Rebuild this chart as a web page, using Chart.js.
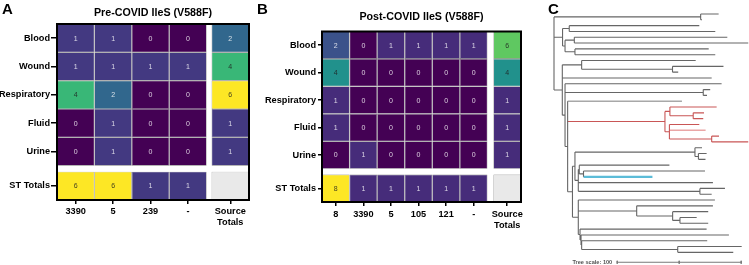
<!DOCTYPE html>
<html>
<head>
<meta charset="utf-8">
<script src="https://cdn.jsdelivr.net/npm/chart.js@4.4.1/dist/chart.umd.min.js"></script>
<style>
  body { margin: 0; background: #fff; width: 749px; height: 265px; position: relative; overflow: hidden; }
  canvas { position: absolute; }
  .panel { position: absolute; font: bold 15px/15px "Liberation Sans", Arial, sans-serif; color: #000; }
</style>
</head>
<body>
<canvas id="preChart" width="262" height="240" style="left:0;top:0"></canvas>
<canvas id="postChart" width="273" height="242" style="left:262px;top:0"></canvas>
<canvas id="treeChart" width="204" height="265" style="left:545px;top:0"></canvas>
<div class="panel" style="left:2px;top:1px">A</div>
<div class="panel" style="left:257px;top:1px">B</div>
<div class="panel" style="left:548px;top:1px">C</div>
<script>
// Heatmap data
const sources = ["Blood", "Wound", "Respiratory", "Fluid", "Urine"];

const preSTs = ["3390", "5", "239", "-"];
const preCounts = [
  [1, 1, 0, 0],
  [1, 1, 1, 1],
  [4, 2, 0, 0],
  [0, 1, 0, 0],
  [0, 1, 0, 0],
];
const preSourceTotals = [2, 4, 6, 1, 1];
const preSTTotals = [6, 6, 1, 1];

const postSTs = ["8", "3390", "5", "105", "121", "-"];
const postCounts = [
  [2, 0, 1, 1, 1, 1],
  [4, 0, 0, 0, 0, 0],
  [1, 0, 0, 0, 0, 0],
  [1, 0, 0, 0, 0, 0],
  [0, 1, 0, 0, 0, 0],
];
const postSourceTotals = [6, 4, 1, 1, 1];
const postSTTotals = [8, 1, 1, 1, 1, 1];

// Tree (branch lengths), labels mark coloured branches
const treeNewick = [
  "(",
  "(:14.5,:1.1):118.3,",
  "((:104.9,:117.8):5.4,((:123.4,:140.3):7.5,(:107.9,:113.2):8.0):2.0):6.9,",
  "((:92.0,(:41.1,:4.6):73.3):15.6,:120.5,",
  "(:126.3,(:5.6,:3.0):111.5,",
  "(lite:92.2,",
  "((:37.7,(:8.7,:8.1):18.8):4.0,(:24.1,pink:29.2,(:5.9,:29.5):34.1):3.6)red:78.5,",
  "(((:5.7,(:6.6,:5.7):2.8):96.8,((:72.7,(:98.0,cyan:55.6):3.4):0.8,:108.6,(:20.2,:9.5):98.1):2.7):2.0,",
  "(:110.2,(:61.5,(:28.7,(:13.5,:22.8):5.9):29.0):47.1,(:102.1,(:119.3,(:101.3,(:51.6,:44.8):77.5):0.5):0.8):1.4):4.7",
  "):3.9",
  "):2.1",
  "):2.2",
  "):6.7",
  ");",
].join("");
const treeScaleLength = 100;

Chart.defaults.font.family = "'Liberation Sans', Arial, sans-serif";
Chart.defaults.color = "#000";

const viridisStops = ["#440154", "#482475", "#414487", "#355f8d", "#2a788e", "#21918c",
  "#22a884", "#44bf70", "#7ad151", "#bddf26", "#fde725"];

function hexToRgb(h) {
  return [1, 3, 5].map((i) => parseInt(h.slice(i, i + 2), 16));
}

function viridis(t) {
  const p = Math.max(0, Math.min(1, t)) * (viridisStops.length - 1);
  const i = Math.min(Math.floor(p), viridisStops.length - 2);
  const f = p - i;
  const a = hexToRgb(viridisStops[i]);
  const b = hexToRgb(viridisStops[i + 1]);
  const c = a.map((v, k) => Math.round(v + (b[k] - v) * f));
  return `rgb(${c[0]},${c[1]},${c[2]})`;
}

/** Build one heatmap panel as floating bars on linear scales */
function heatmap(id, opts) {
  const { title, sts, counts, sourceTotals, stTotals } = opts;
  const nCols = sts.length;
  const srcX = nCols + opts.colGap + 0.5;
  const rowBottom = (i) => 1 + opts.rowGap + (sources.length - 1 - i);
  const maxVal = Math.max(...sourceTotals, ...stTotals);

  const cells = [];
  counts.forEach((row, i) =>
    row.forEach((v, j) => cells.push({ x: j + 0.5, y: [rowBottom(i), rowBottom(i) + 1], v }))
  );
  sourceTotals.forEach((v, i) => cells.push({ x: srcX, y: [rowBottom(i), rowBottom(i) + 1], v }));
  stTotals.forEach((v, j) => cells.push({ x: j + 0.5, y: [0, 1], v }));
  cells.push({ x: srcX, y: [0, 1], v: null }); // empty corner

  const xTicks = sts.map((s, j) => ({ value: j + 0.5, label: s }))
    .concat({ value: srcX, label: ["Source", "Totals"] });
  const yTicks = [{ value: 0.5, label: "ST Totals" }]
    .concat(sources.map((s, i) => ({ value: rowBottom(i) + 0.5, label: s })).reverse());

  const cellText = {
    id: "cellText",
    afterDatasetsDraw(chart) {
      const ctx = chart.ctx;
      const meta = chart.getDatasetMeta(0);
      ctx.save();
      ctx.font = "7px 'Liberation Sans', Arial, sans-serif";
      ctx.textAlign = "center";
      ctx.textBaseline = "middle";
      meta.data.forEach((bar, i) => {
        const cell = cells[i];
        if (cell.v === null) return;
        const { x, y, base } = bar.getProps(["x", "y", "base"], true);
        ctx.fillStyle = cell.v / maxVal > 0.45 ? "rgba(30,30,30,0.85)" : "rgba(255,255,255,0.8)";
        ctx.fillText(String(cell.v), x, (y + base) / 2 + 0.5);
      });
      ctx.restore();
    },
  };

  const frame = {
    id: "frame",
    afterDatasetsDraw(chart) {
      const { ctx, chartArea: a } = chart;
      ctx.save();
      ctx.strokeStyle = "#000";
      ctx.lineWidth = 2;
      ctx.strokeRect(a.left, a.top, a.right - a.left, a.bottom - a.top);
      ctx.restore();
    },
  };

  const tickFont = { size: 9.2, weight: "bold" };

  new Chart(document.getElementById(id), {
    type: "bar",
    data: {
      datasets: [
        {
          data: cells,
          backgroundColor: (ctx) => {
            const r = ctx.raw;
            if (!r) return "#fff";
            return r.v === null ? "#e9e9e9" : viridis(r.v / maxVal);
          },
          borderColor: "#7d7d7d",
          borderWidth: 0.6,
          borderSkipped: false,
          inflateAmount: 0,
          barPercentage: 1,
          categoryPercentage: 1,
        },
      ],
    },
    options: {
      responsive: false,
      animation: false,
      events: [],
      layout: { padding: { right: opts.padRight } },
      plugins: {
        legend: { display: false },
        tooltip: { enabled: false },
        title: {
          display: true,
          text: title,
          fullSize: false,
          color: "#000",
          font: { size: 10.7, weight: "bold" },
          padding: opts.titlePadding,
        },
      },
      scales: {
        x: {
          type: "linear",
          min: 0,
          max: nCols + opts.colGap + 1,
          offset: false,
          afterBuildTicks: (s) => { s.ticks = xTicks.map((t) => ({ value: t.value })); },
          afterFit: (s) => { s.height = 40; s.paddingLeft = 0; s.paddingRight = 0; },
          ticks: {
            callback: (v, i) => xTicks[i].label,
            autoSkip: false,
            maxRotation: 0,
            minRotation: 0,
            padding: opts.xPad,
            color: "#000",
            font: tickFont,
          },
          grid: { drawOnChartArea: false, offset: false, color: "#000", lineWidth: 1.5, tickLength: 4 },
          border: { display: false },
        },
        y: {
          type: "linear",
          min: 0,
          max: sources.length + 1 + opts.rowGap,
          afterBuildTicks: (s) => { s.ticks = yTicks.map((t) => ({ value: t.value })); },
          afterFit: (s) => { s.width = opts.yWidth; s.paddingTop = 0; s.paddingBottom = 0; },
          ticks: {
            callback: (v, i) => yTicks[i].label,
            autoSkip: false,
            padding: opts.yPad,
            color: "#000",
            font: tickFont,
          },
          grid: { drawOnChartArea: false, color: "#000", lineWidth: 1.5, tickLength: opts.yTick },
          border: { display: false },
        },
      },
    },
    plugins: [cellText, frame],
  });
}

heatmap("preChart", {
  title: "Pre-COVID IleS (V588F)",
  sts: preSTs,
  counts: preCounts,
  sourceTotals: preSourceTotals,
  stTotals: preSTTotals,
  colGap: 0.133,
  rowGap: 0.21,
  yWidth: 57,
  yTick: 6,
  yPad: 1,
  xPad: 2,
  padRight: 13,
  titlePadding: { top: 7, bottom: 4.16 },
});

heatmap("postChart", {
  title: "Post-COVID IleS (V588F)",
  sts: postSTs,
  counts: postCounts,
  sourceTotals: postSourceTotals,
  stTotals: postSTTotals,
  colGap: 0.217,
  rowGap: 0.21,
  yWidth: 60,
  yTick: 4,
  yPad: 2,
  xPad: 3,
  padRight: 14,
  titlePadding: { top: 11, bottom: 7.66 },
});

/** Minimal Newick parser */
function parseNewick(s) {
  let i = 0;
  function node() {
    const n = { children: [], name: "", length: 0 };
    if (s[i] === "(") {
      i++;
      n.children.push(node());
      while (s[i] === ",") {
        i++;
        n.children.push(node());
      }
      i++; // ')'
    }
    while (i < s.length && !":,);".includes(s[i])) n.name += s[i++];
    if (s[i] === ":") {
      i++;
      let num = "";
      while (i < s.length && !",);".includes(s[i])) num += s[i++];
      n.length = parseFloat(num);
    }
    return n;
  }
  return node();
}

const treeStyles = {
  base: { colour: "#666666", width: 1.1 },
  lite: { colour: "#a8a8a8", width: 1.6 },
  red: { colour: "#c95656", width: 1.1 },
  pink: { colour: "#eaa6a6", width: 1.6 },
  cyan: { colour: "#5cbcd8", width: 2.2 },
  scale: { colour: "#7a7a7a", width: 1 },
};

const tree = parseNewick(treeNewick);
let leafCount = 0;
(function place(n, parentDepth, style) {
  n.depth = parentDepth + n.length;
  n.style = treeStyles[n.name] ? n.name : style;
  if (!n.children.length) {
    n.y = leafCount++;
  } else {
    n.children.forEach((c) => place(c, n.depth, n.style));
    n.y = (n.children[0].y + n.children[n.children.length - 1].y) / 2;
  }
})(tree, 0, "base");

const segments = {};
function addSeg(style, x0, y0, x1, y1) {
  (segments[style] = segments[style] || []).push({ x: x0, y: y0 }, { x: x1, y: y1 }, { x: null, y: null });
}
(function collect(n, parent) {
  if (parent) addSeg(n.style, parent.depth, n.y, n.depth, n.y);
  if (n.children.length) {
    addSeg(n.style, n.depth, n.children[0].y, n.depth, n.children[n.children.length - 1].y);
    n.children.forEach((c) => collect(c, n));
  }
})(tree, null);

// scale bar
const scaleRow = leafCount + 0.7;
const scaleStart = 51;
addSeg("scale", scaleStart, scaleRow, scaleStart + treeScaleLength, scaleRow);
[0, 0.5, 1].forEach((f) => {
  const x = scaleStart + f * treeScaleLength;
  addSeg("scale", x, scaleRow - 0.25, x, scaleRow + 0.25);
});

const treeDatasets = ["base", "lite", "scale", "red", "pink", "cyan"]
  .filter((k) => segments[k])
  .map((k) => ({
    data: segments[k],
    showLine: true,
    borderColor: treeStyles[k].colour,
    borderWidth: treeStyles[k].width,
    pointRadius: 0,
    spanGaps: false,
    clip: false,
  }));

const scaleLabel = {
  id: "scaleLabel",
  afterDatasetsDraw(chart) {
    const { ctx, scales } = chart;
    ctx.save();
    ctx.font = "bold 5.6px 'Liberation Sans', Arial, sans-serif";
    ctx.fillStyle = "#555";
    ctx.textAlign = "right";
    ctx.textBaseline = "middle";
    ctx.fillText("Tree scale: " + treeScaleLength, scales.x.getPixelForValue(scaleStart) - 5,
      scales.y.getPixelForValue(scaleRow));
    ctx.restore();
  },
};

new Chart(document.getElementById("treeChart"), {
  type: "scatter",
  data: { datasets: treeDatasets },
  options: {
    responsive: false,
    animation: false,
    events: [],
    layout: { padding: { left: 9, right: 0, top: 14, bottom: 1 } },
    plugins: { legend: { display: false }, tooltip: { enabled: false } },
    scales: {
      x: { type: "linear", display: false, min: 0, max: 157.3 },
      y: { type: "linear", display: false, min: 0, max: leafCount + 1, reverse: true },
    },
  },
  plugins: [scaleLabel],
});
</script>
</body>
</html>
